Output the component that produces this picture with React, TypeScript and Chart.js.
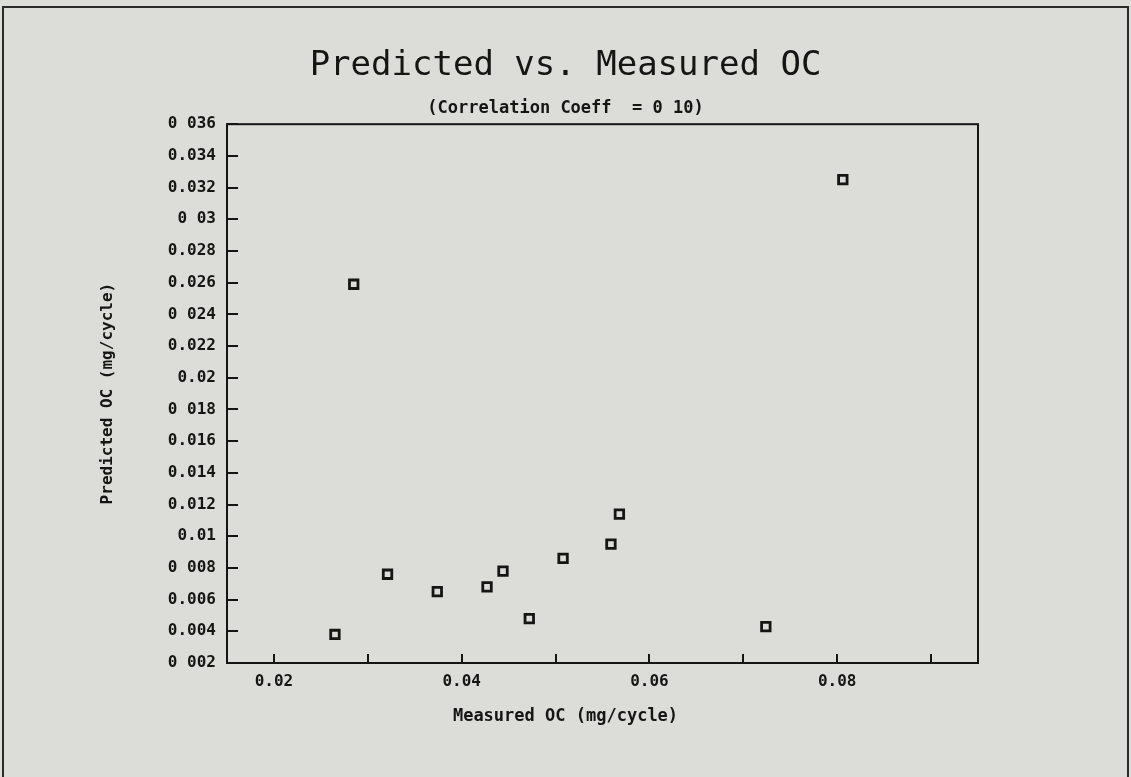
import React, { useEffect, useRef } from 'react';
import { Chart, registerables } from 'chart.js';

Chart.register(...registerables);

// ---- Data ----
const measuredOC = [0.0265, 0.0285, 0.0321, 0.0374, 0.0427, 0.0444, 0.0472, 0.0508, 0.0559, 0.0568, 0.0724, 0.0806];
const predictedOC = [0.0038, 0.0259, 0.0076, 0.0065, 0.0068, 0.0078, 0.0048, 0.0086, 0.0095, 0.0114, 0.0043, 0.0325];

const xTickValues = [0.02, 0.03, 0.04, 0.05, 0.06, 0.07, 0.08, 0.09];
const xTickLabels = ['0.02', '', '0.04', '', '0.06', '', '0.08', ''];

const yTickValues = [0.002, 0.004, 0.006, 0.008, 0.01, 0.012, 0.014, 0.016, 0.018, 0.02, 0.022, 0.024, 0.026, 0.028, 0.03, 0.032, 0.034, 0.036];
const yTickLabels = ['0 002', '0.004', '0.006', '0 008', '0.01', '0.012', '0.014', '0.016', '0 018', '0.02', '0.022', '0 024', '0.026', '0.028', '0 03', '0.032', '0.034', '0 036'];

const titleText = 'Predicted vs. Measured OC';
const subtitleText = '(Correlation Coeff  = 0 10)';
const xAxisTitle = 'Measured OC (mg/cycle)';
const yAxisTitle = 'Predicted OC (mg/cycle)';

const INK = '#151515';
const PAPER = '#dcdcd8';
const MONO = '"DejaVu Sans Mono", monospace';

const pagePlugin = {
  id: 'pageFrame',
  beforeDraw(chart: any) {
    const { ctx, width, height } = chart;
    ctx.save();
    ctx.fillStyle = PAPER;
    ctx.fillRect(0, 0, width, height);
    ctx.strokeStyle = '#2a2a2a';
    ctx.lineWidth = 2;
    ctx.beginPath();
    ctx.moveTo(3, height);
    ctx.lineTo(3, 7);
    ctx.lineTo(width - 3, 7);
    ctx.lineTo(width - 3, height);
    ctx.stroke();
    ctx.restore();
  },
};

const framePlugin = {
  id: 'plotFrame',
  afterDraw(chart: any) {
    const { ctx, chartArea: a, scales } = chart;
    const x = scales.x;
    const y = scales.y;
    ctx.save();
    ctx.strokeStyle = INK;
    ctx.lineWidth = 2;
    ctx.strokeRect(a.left, a.top, a.right - a.left, a.bottom - a.top);
    ctx.beginPath();
    x.ticks.forEach((t: any) => {
      const px = Math.round(x.getPixelForValue(t.value));
      ctx.moveTo(px, a.bottom);
      ctx.lineTo(px, a.bottom - 9);
    });
    y.ticks.forEach((t: any) => {
      const py = Math.round(y.getPixelForValue(t.value));
      ctx.moveTo(a.left, py);
      ctx.lineTo(a.left + 11, py);
    });
    ctx.stroke();
    // x-axis title, centred on the page like the other headings
    ctx.fillStyle = INK;
    ctx.font = `bold 17px ${MONO}`;
    ctx.textAlign = 'center';
    ctx.textBaseline = 'middle';
    ctx.fillText(xAxisTitle, chart.width / 2, a.bottom + 54);
    ctx.restore();
  },
};

export default function App() {
  const canvasRef = useRef<HTMLCanvasElement | null>(null);

  useEffect(() => {
    document.body.style.margin = '0';
    const canvas = canvasRef.current;
    if (!canvas) return;
    const points = measuredOC.map((m, i) => ({ x: m, y: predictedOC[i] }));
    const tickFont = { family: MONO, size: 16, weight: 'bold' as const };

    const chart = new Chart(canvas, {
      type: 'scatter',
      data: {
        datasets: [
          {
            label: 'Predicted OC',
            data: points,
            pointStyle: 'rect',
            pointRadius: 6,
            pointHoverRadius: 6,
            borderWidth: 2.8,
            borderColor: INK,
            backgroundColor: 'rgba(0,0,0,0)',
            showLine: false,
          },
        ],
      },
      options: {
        responsive: false,
        animation: false,
        events: [],
        layout: { padding: 0 },
        plugins: {
          legend: { display: false },
          tooltip: { enabled: false },
          title: {
            display: true,
            text: titleText,
            color: INK,
            font: { family: MONO, size: 34, weight: 'normal' },
            padding: { top: 46, bottom: 12 },
          },
          subtitle: {
            display: true,
            text: subtitleText,
            color: INK,
            font: { family: MONO, size: 17, weight: 'bold' },
            padding: { top: 0, bottom: 5 },
          },
        },
        scales: {
          x: {
            type: 'linear',
            min: 0.015,
            max: 0.095,
            afterBuildTicks: (s: any) => {
              s.ticks = xTickValues.map((v) => ({ value: v }));
            },
            afterFit: (s: any) => {
              s.height = 114;
            },
            grid: { display: false, drawTicks: false },
            border: { display: false },
            ticks: {
              padding: 9,
              color: INK,
              font: tickFont,
              autoSkip: false,
              maxRotation: 0,
              callback: (_v: any, i: number) => xTickLabels[i],
            },
          },
          y: {
            type: 'linear',
            min: 0.002,
            max: 0.036,
            afterBuildTicks: (s: any) => {
              s.ticks = yTickValues.map((v) => ({ value: v }));
            },
            afterFit: (s: any) => {
              s.width = 227;
            },
            grid: { display: false, drawTicks: false },
            border: { display: false },
            title: {
              display: true,
              text: yAxisTitle,
              color: INK,
              font: { family: MONO, size: 16, weight: 'bold' },
              padding: { top: 98, bottom: 0 },
            },
            ticks: {
              padding: 11,
              color: INK,
              font: tickFont,
              autoSkip: false,
              callback: (_v: any, i: number) => yTickLabels[i],
            },
          },
          y2: {
            type: 'linear',
            position: 'right',
            min: 0,
            max: 1,
            grid: { display: false, drawTicks: false },
            border: { display: false },
            ticks: { display: false },
            afterFit: (s: any) => {
              s.width = 153;
            },
          },
        },
      },
      plugins: [pagePlugin, framePlugin],
    } as any);

    return () => chart.destroy();
  }, []);

  return (
    <div style={{ position: 'absolute', left: 0, top: 0, width: 1131, height: 777, background: PAPER }}>
      <canvas ref={canvasRef} width={1131} height={777} style={{ display: 'block' }} />
    </div>
  );
}
